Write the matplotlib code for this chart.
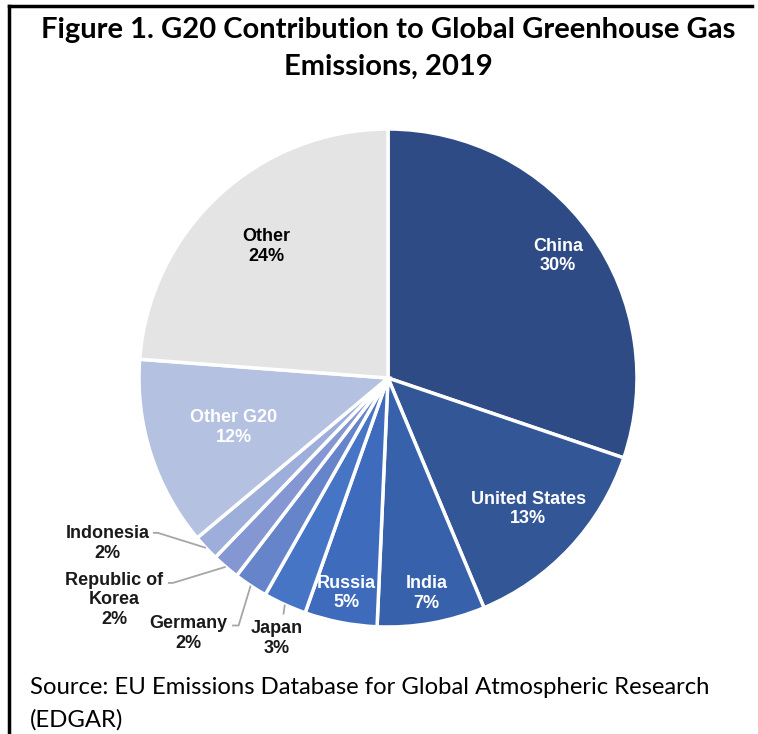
import numpy as np
import matplotlib.pyplot as plt

# data (percent of global GHG emissions, 2019)
names = ["China", "United States", "India", "Russia", "Japan", "Germany",
         "Republic of\nKorea", "Indonesia", "Other G20", "Other"]
shares = [30.2, 13.5, 7.0, 4.7, 2.8, 2.2, 1.8, 1.7, 12.3, 23.8]
pct_labels = ["30%", "13%", "7%", "5%", "3%", "2%", "2%", "2%", "12%", "24%"]
colors = ["#2E4B86", "#335796", "#3761AA", "#3E6BBB", "#4775C6", "#6584CA",
          "#8497D2", "#9EAEDA", "#B5C1E1", "#E4E4E4"]

# inside labels: radial fraction, text colour (None = outside label)
inside_r = [0.84, 0.77, 0.88, 0.88, None, None, None, None, 0.65, 0.72]
inside_col = ["white", "white", "white", "white", None, None, None, None, "white", "black"]
# outside labels: elbow point, end point and text position, in pie units
outside = {
    4: ((-0.42, -0.95), (-0.42, -0.95), (-0.447, -1.045), "center"),
    5: ((-0.60, -0.994), (-0.626, -0.994), (-0.80, -1.025), "center"),
    6: ((-0.864, -0.823), (-0.884, -0.823), (-1.10, -0.89), "center"),
    7: ((-0.924, -0.622), (-0.944, -0.622), (-1.125, -0.665), "center"),
}

W, H = 758, 734
cx, cy, R = 388, 378, 249
fig = plt.figure(figsize=(W / 100, H / 100), dpi=100)
ax = fig.add_axes([(cx - R - 200) / W, (H - cy - R - 100) / H, (2 * R + 400) / W, (2 * R + 200) / H])

wedges, _ = ax.pie(shares, colors=colors, startangle=90, counterclock=False,
                   wedgeprops=dict(edgecolor="white", linewidth=2.5))
ax.set_xlim(-1 - 200 / R, 1 + 200 / R)
ax.set_ylim(-1 - 100 / R, 1 + 100 / R)
ax.set_aspect("equal")
ax.axis("off")

lab_font = dict(family="Liberation Sans", fontweight="bold", fontsize=13, linespacing=1.2)
for i, w in enumerate(wedges):
    mid = np.deg2rad((w.theta1 + w.theta2) / 2)
    txt = names[i] + "\n" + pct_labels[i]
    if inside_r[i] is not None:
        r = inside_r[i]
        ax.text(r * np.cos(mid), r * np.sin(mid), txt, ha="center", va="center",
                color=inside_col[i], **lab_font)
    else:
        e1, e2, tp, ha = outside[i]
        x0, y0 = np.cos(mid), np.sin(mid)
        ax.plot([x0, e1[0], e2[0]], [y0, e1[1], e2[1]], color="#A6A6A6", lw=1.3,
                solid_capstyle="butt", zorder=1)
        ax.text(tp[0], tp[1], txt, ha=ha, va="center", color="#1A1A1A", **lab_font)

# title and source
fig.text(388 / W, 1 - 30 / H, "Figure 1. G20 Contribution to Global Greenhouse Gas",
         ha="center", va="center", family="Lato", fontweight="bold", fontsize=21)
fig.text(388 / W, 1 - 67 / H, "Emissions, 2019",
         ha="center", va="center", family="Lato", fontweight="bold", fontsize=21)
fig.text(30 / W, 1 - 687 / H, "Source: EU Emissions Database for Global Atmospheric Research",
         ha="left", va="center", family="Lato", fontsize=17.2)
fig.text(30 / W, 1 - 720 / H, "(EDGAR)", ha="left", va="center", family="Lato", fontsize=17.2)

# frame lines at top and left
fig.add_artist(plt.Line2D([9 / W, 752 / W], [1 - 6 / H, 1 - 6 / H], color="black", lw=2.5))
fig.add_artist(plt.Line2D([9 / W, 9 / W], [1 - 6 / H, 0], color="black", lw=2.5))

fig.savefig("out.png", dpi=100)
